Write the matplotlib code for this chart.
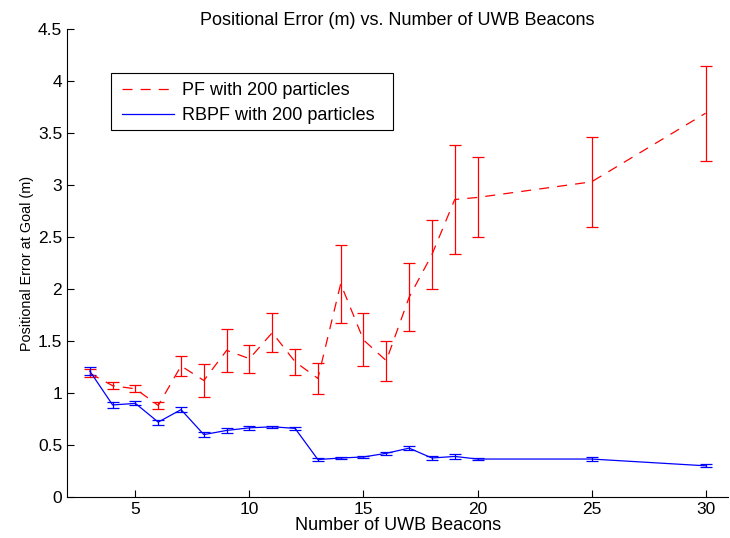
import matplotlib
matplotlib.use('Agg')
import matplotlib.pyplot as plt
from matplotlib.patches import Rectangle

plt.rcParams['font.family'] = ['Liberation Sans', 'DejaVu Sans']

# data
beacons = [3, 4, 5, 6, 7, 8, 9, 10, 11, 12, 13, 14, 15, 16, 17, 18, 19, 20, 25, 30]
pf_mean = [1.19, 1.07, 1.04, 0.88, 1.26, 1.12, 1.41, 1.33, 1.58, 1.30, 1.14, 2.05,
           1.51, 1.31, 1.92, 2.33, 2.86, 2.88, 3.03, 3.69]
pf_err = [0.04, 0.035, 0.035, 0.03, 0.095, 0.155, 0.205, 0.135, 0.185, 0.125, 0.15, 0.375,
          0.255, 0.19, 0.325, 0.335, 0.52, 0.385, 0.435, 0.455]
rbpf_mean = [1.21, 0.885, 0.90, 0.72, 0.84, 0.60, 0.64, 0.665, 0.675, 0.66, 0.36, 0.375,
             0.385, 0.42, 0.47, 0.375, 0.39, 0.365, 0.365, 0.30]
rbpf_err = [0.04, 0.025, 0.02, 0.025, 0.022, 0.022, 0.027, 0.018, 0.01, 0.015, 0.015, 0.01,
            0.012, 0.015, 0.02, 0.015, 0.02, 0.012, 0.02, 0.015]

fig = plt.figure(figsize=(7.3, 5.38), dpi=100)
ax = fig.add_axes([0.0918, 0.0762, 0.906, 0.87])

pf = ax.errorbar(beacons, pf_mean, yerr=pf_err, color='red', linestyle=(0, (8, 6.5)),
                 linewidth=0.9, elinewidth=0.9, capsize=4, capthick=0.9)
rbpf = ax.errorbar(beacons, rbpf_mean, yerr=rbpf_err, color='blue', linestyle='-',
                   linewidth=0.9, elinewidth=0.9, capsize=4, capthick=0.9)

ax.set_xlim(2, 31)
ax.set_ylim(0, 4.5)
ax.set_xticks([5, 10, 15, 20, 25, 30])
ax.set_yticks([0, 0.5, 1, 1.5, 2, 2.5, 3, 3.5, 4, 4.5])
ax.set_yticklabels(['0', '0.5', '1', '1.5', '2', '2.5', '3', '3.5', '4', '4.5'])
ax.spines['top'].set_visible(False)
ax.spines['right'].set_visible(False)
ax.tick_params(direction='in', length=5, labelsize=12.5, width=0.8)

ax.set_xlabel('Number of UWB Beacons', fontsize=13, labelpad=0)
ax.set_ylabel('Positional Error at Goal (m)', fontsize=10.4, labelpad=3)
ax.set_title('Positional Error (m) vs. Number of UWB Beacons', fontsize=13, pad=2)

# matlab style legend box: wider on the right than mpl's own frame
ax.add_patch(Rectangle((0.0666, 0.7842), 0.4266, 0.1218, transform=ax.transAxes,
                       facecolor='white', edgecolor='black', linewidth=0.8,
                       zorder=4.9, clip_on=False))
# plain line handles, no error bar glyphs in the legend
leg = ax.legend([pf.lines[0], rbpf.lines[0]],
                ['PF with 200 particles', 'RBPF with 200 particles'],
                loc='upper left', bbox_to_anchor=(0.0832, 0.887), borderaxespad=0,
                fontsize=13, frameon=False, borderpad=0,
                handlelength=2.9, handletextpad=0.4, labelspacing=0.45)

fig.savefig('out.png', dpi=100)
